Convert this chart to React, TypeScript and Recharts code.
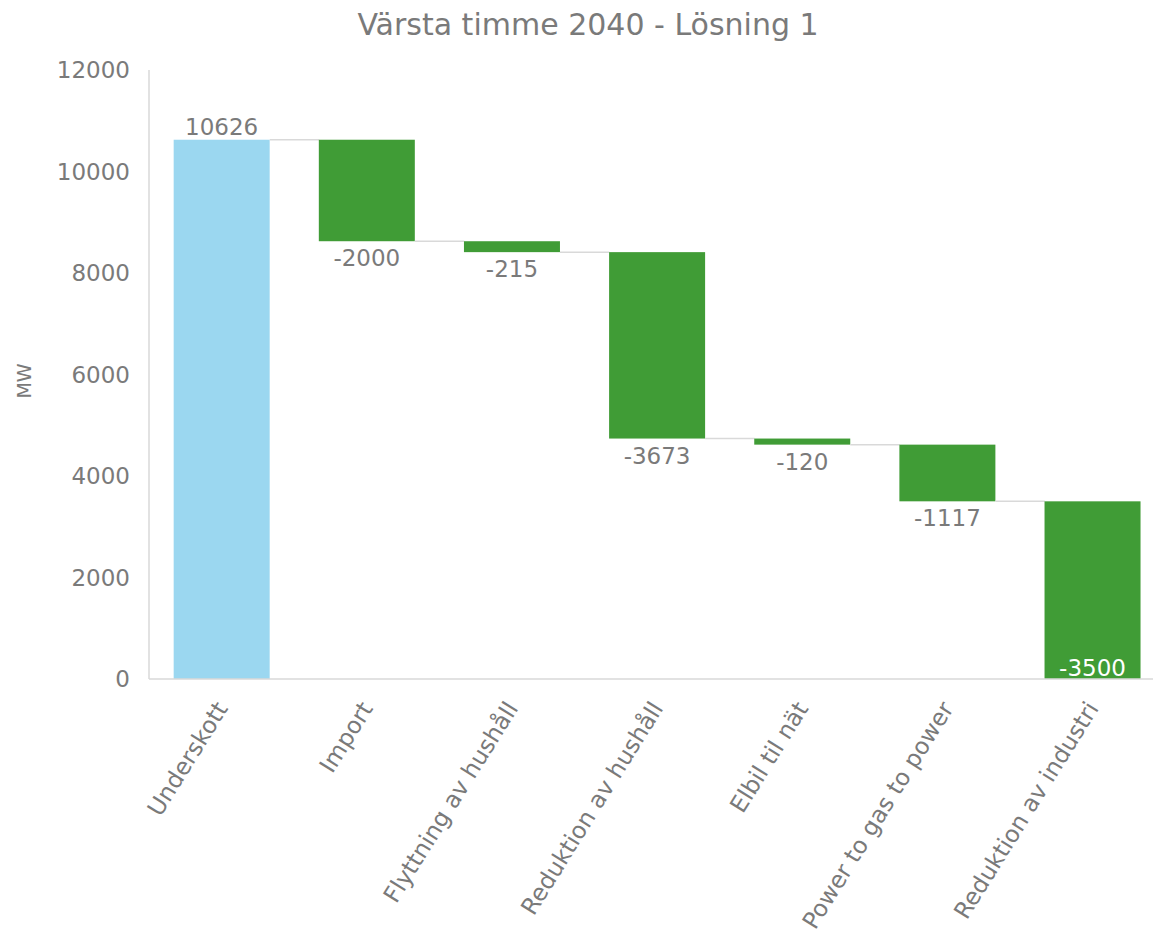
import React from 'react';
import { BarChart, Bar, XAxis, YAxis, LabelList } from 'recharts';

const categories = [
  'Underskott',
  'Import',
  'Flyttning av hushåll',
  'Reduktion av hushåll',
  'Elbil til nät',
  'Power to gas to power',
  'Reduktion av industri',
];
const changes = [10626, -2000, -215, -3673, -120, -1117, -3500];
const yTicks = [0, 2000, 4000, 6000, 8000, 10000, 12000];
const chartTitle = 'Värsta timme 2040 - Lösning 1';
const yAxisTitle = 'MW';

const FONT = '"DejaVu Sans", Verdana, sans-serif';
const TEXT = '#7a7a7a';
const AXIS = '#d9d9d9';
const BLUE = '#9bd7f0';
const GREEN = '#409c36';
const GAP_FRAC = 0.17;

let running = 0;
const data = categories.map((name, i) => {
  const d = changes[i];
  const start = running;
  const end = running + d;
  running = end;
  return { name, base: Math.min(start, end), size: Math.abs(d), change: d };
});

const StepBar = (props: any) => {
  const { x, y, width, height, index } = props;
  const change = changes[index];
  const fill = index === 0 ? BLUE : GREEN;
  const level = change >= 0 ? y : y + height;
  const gap = (width * 2 * GAP_FRAC) / (1 - 2 * GAP_FRAC);
  return (
    <g>
      <rect x={x} y={y} width={width} height={height} fill={fill} />
      {index < changes.length - 1 && (
        <line x1={x + width} x2={x + width + gap} y1={level} y2={level} stroke={AXIS} strokeWidth={1.5} />
      )}
    </g>
  );
};

const ValueLabel = (props: any) => {
  const { x, y, width, height, index } = props;
  const change = changes[index];
  const cx = x + width / 2;
  if (change >= 0) {
    return (
      <text x={cx} y={y - 5} textAnchor="middle" fontSize={23} fill={TEXT} fontFamily={FONT}>
        {change}
      </text>
    );
  }
  if (index === changes.length - 1) {
    return (
      <text x={cx} y={y + height - 3} textAnchor="middle" fontSize={23} fill="#ffffff" fontFamily={FONT}>
        {change}
      </text>
    );
  }
  return (
    <text x={cx} y={y + height + 25} textAnchor="middle" fontSize={23} fill={TEXT} fontFamily={FONT}>
      {change}
    </text>
  );
};

const CatTick = (props: any) => {
  const { x, y, payload } = props;
  return (
    <g transform={`translate(${x},${y + 17})`}>
      <text
        x={0}
        y={0}
        dy="0.35em"
        textAnchor="end"
        transform="rotate(-58)"
        fontSize={23.5}
        fill={TEXT}
        fontFamily={FONT}
      >
        {payload.value}
      </text>
    </g>
  );
};

export default function App() {
  return (
    <div
      style={{
        position: 'fixed',
        left: 0,
        top: 0,
        width: 1153,
        height: 943,
        overflow: 'hidden',
        background: '#ffffff',
        fontFamily: FONT,
      }}
    >
      <div
        style={{
          position: 'absolute',
          top: 7,
          left: 0,
          width: 1176,
          textAlign: 'center',
          fontSize: 30,
          lineHeight: '36px',
          color: TEXT,
          whiteSpace: 'nowrap',
        }}
      >
        {chartTitle}
      </div>
      <div
        style={{
          position: 'absolute',
          left: 24,
          top: 381,
          transform: 'translate(-50%, -50%) rotate(-90deg)',
          fontSize: 19,
          color: TEXT,
          whiteSpace: 'nowrap',
        }}
      >
        {yAxisTitle}
      </div>
      <div style={{ position: 'absolute', left: 0, top: 0 }}>
        <BarChart
          width={1170}
          height={943}
          data={data}
          margin={{ top: 70, right: 5, bottom: 0, left: 0 }}
          barCategoryGap={`${GAP_FRAC * 100}%`}
        >
          <XAxis
            dataKey="name"
            height={264}
            interval={0}
            tickLine={false}
            axisLine={{ stroke: AXIS, strokeWidth: 1.5 }}
            tick={<CatTick />}
          />
          <YAxis
            width={149}
            domain={[0, 12000]}
            ticks={yTicks}
            interval={0}
            tickLine={false}
            tickSize={0}
            tickMargin={19}
            axisLine={{ stroke: AXIS, strokeWidth: 1.5 }}
            tick={{ fontSize: 23, fill: TEXT, fontFamily: FONT }}
          />
          <Bar dataKey="base" stackId="w" fill="transparent" isAnimationActive={false} />
          <Bar dataKey="size" stackId="w" shape={<StepBar />} isAnimationActive={false}>
            <LabelList dataKey="change" content={<ValueLabel />} />
          </Bar>
        </BarChart>
      </div>
    </div>
  );
}
